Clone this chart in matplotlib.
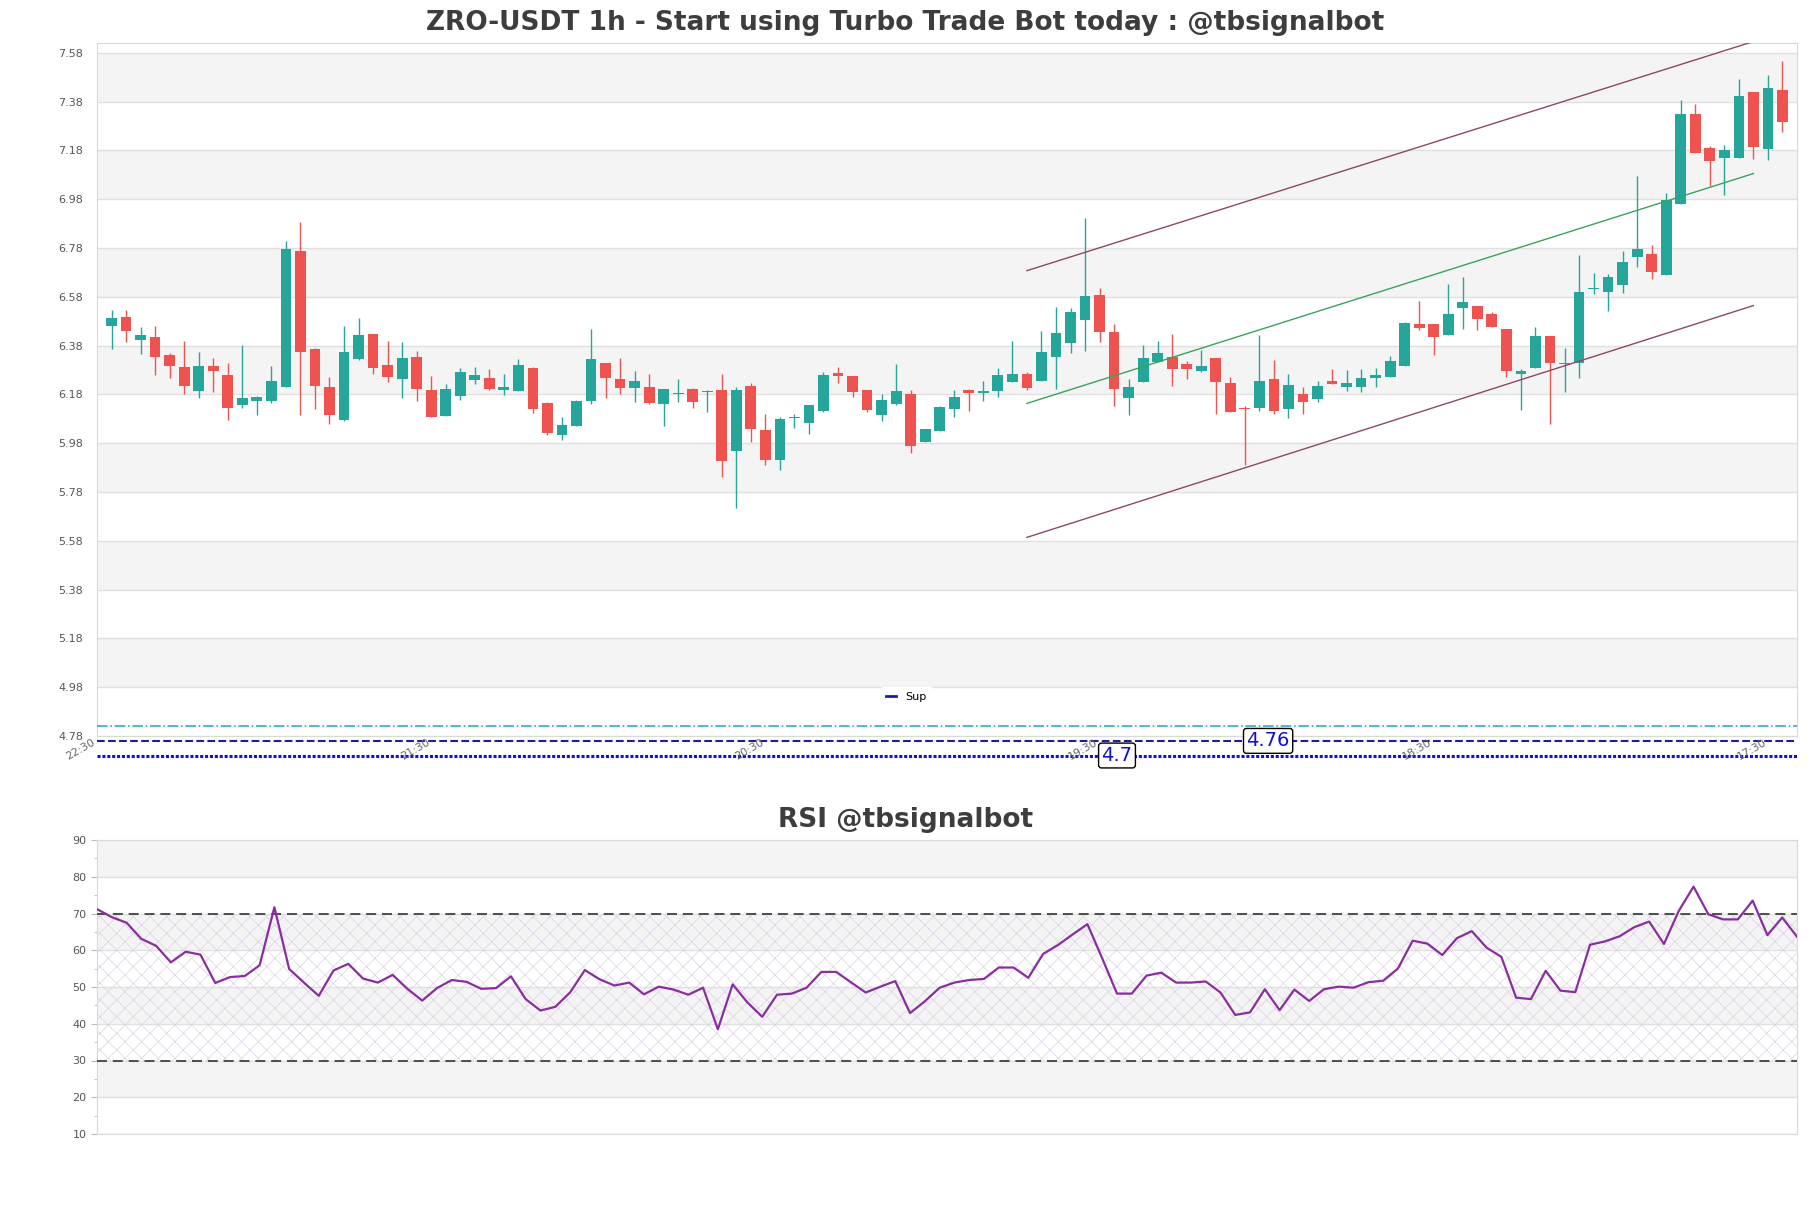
import matplotlib.pyplot as plt
import numpy as np

# velas 1h (x = 1..116)
opens = [6.462, 6.496, 6.404, 6.414, 6.341, 6.292, 6.195, 6.296, 6.259, 6.138,
         6.154, 6.154, 6.211, 6.766, 6.365, 6.210, 6.076, 6.325, 6.427, 6.300,
         6.244, 6.333, 6.198, 6.093, 6.175, 6.240, 6.247, 6.199, 6.195, 6.288,
         6.145, 6.015, 6.052, 6.154, 6.308, 6.243, 6.207, 6.210, 6.142, 6.181,
         6.202, 6.188, 6.199, 5.950, 6.214, 6.034, 5.913, 6.083, 6.064, 6.113,
         6.267, 6.255, 6.198, 6.097, 6.142, 6.181, 5.984, 6.028, 6.120, 6.198,
         6.187, 6.195, 6.232, 6.263, 6.236, 6.333, 6.391, 6.485, 6.586, 6.435,
         6.166, 6.232, 6.311, 6.333, 6.304, 6.275, 6.329, 6.226, 6.125, 6.125,
         6.243, 6.121, 6.181, 6.162, 6.236, 6.211, 6.211, 6.247, 6.251, 6.296,
         6.468, 6.468, 6.423, 6.534, 6.541, 6.509, 6.447, 6.265, 6.288, 6.419,
         6.304, 6.308, 6.612, 6.599, 6.627, 6.745, 6.754, 6.670, 6.961, 7.327,
         7.188, 7.147, 7.149, 7.421, 7.186, 7.429]
highs = [6.525, 6.525, 6.455, 6.461, 6.349, 6.398, 6.355, 6.329, 6.308, 6.382,
         6.172, 6.296, 6.807, 6.885, 6.372, 6.251, 6.461, 6.492, 6.427, 6.398,
         6.394, 6.357, 6.255, 6.222, 6.288, 6.292, 6.284, 6.263, 6.325, 6.292,
         6.149, 6.087, 6.157, 6.447, 6.310, 6.329, 6.275, 6.263, 6.202, 6.243,
         6.206, 6.199, 6.263, 6.210, 6.226, 6.100, 6.087, 6.100, 6.136, 6.271,
         6.292, 6.255, 6.198, 6.181, 6.304, 6.198, 6.038, 6.132, 6.198, 6.202,
         6.236, 6.288, 6.398, 6.271, 6.439, 6.537, 6.532, 6.904, 6.615, 6.468,
         6.243, 6.382, 6.398, 6.428, 6.316, 6.361, 6.329, 6.251, 6.134, 6.423,
         6.320, 6.263, 6.210, 6.236, 6.284, 6.280, 6.284, 6.288, 6.337, 6.476,
         6.562, 6.468, 6.631, 6.660, 6.541, 6.517, 6.447, 6.284, 6.455, 6.419,
         6.369, 6.750, 6.676, 6.672, 6.766, 7.073, 6.791, 7.006, 7.388, 7.372,
         7.196, 7.200, 7.472, 7.421, 7.490, 7.547]
lows = [6.365, 6.395, 6.345, 6.259, 6.247, 6.181, 6.166, 6.191, 6.076, 6.125,
        6.095, 6.146, 6.211, 6.097, 6.121, 6.060, 6.072, 6.320, 6.265, 6.232,
        6.166, 6.154, 6.089, 6.093, 6.158, 6.224, 6.199, 6.179, 6.195, 6.105,
        6.015, 5.995, 6.052, 6.142, 6.166, 6.183, 6.150, 6.142, 6.052, 6.150,
        6.125, 6.106, 5.840, 5.713, 5.984, 5.892, 5.872, 6.044, 6.019, 6.109,
        6.228, 6.170, 6.109, 6.072, 6.138, 5.941, 5.984, 6.028, 6.089, 6.113,
        6.154, 6.170, 6.232, 6.199, 6.236, 6.202, 6.349, 6.359, 6.395, 6.134,
        6.097, 6.232, 6.311, 6.215, 6.244, 6.270, 6.101, 6.109, 5.892, 6.113,
        6.101, 6.085, 6.101, 6.150, 6.224, 6.195, 6.191, 6.211, 6.251, 6.296,
        6.444, 6.341, 6.423, 6.447, 6.444, 6.457, 6.251, 6.117, 6.288, 6.060,
        6.191, 6.248, 6.592, 6.522, 6.594, 6.701, 6.652, 6.670, 6.961, 7.169,
        7.035, 6.997, 7.149, 7.143, 7.140, 7.255]
closes = [6.492, 6.440, 6.423, 6.334, 6.297, 6.215, 6.296, 6.277, 6.125, 6.165,
          6.169, 6.235, 6.774, 6.355, 6.215, 6.097, 6.353, 6.423, 6.289, 6.252,
          6.329, 6.203, 6.089, 6.202, 6.271, 6.259, 6.203, 6.210, 6.300, 6.121,
          6.023, 6.055, 6.153, 6.325, 6.248, 6.207, 6.235, 6.146, 6.202, 6.182,
          6.150, 6.191, 5.905, 6.199, 6.037, 5.913, 6.079, 6.087, 6.136, 6.259,
          6.256, 6.191, 6.117, 6.157, 6.193, 5.967, 6.038, 6.128, 6.169, 6.185,
          6.193, 6.259, 6.263, 6.207, 6.353, 6.431, 6.517, 6.582, 6.436, 6.203,
          6.210, 6.329, 6.349, 6.284, 6.285, 6.296, 6.232, 6.109, 6.119, 6.236,
          6.113, 6.218, 6.150, 6.214, 6.224, 6.226, 6.247, 6.259, 6.316, 6.472,
          6.453, 6.416, 6.509, 6.558, 6.488, 6.457, 6.275, 6.275, 6.419, 6.310,
          6.310, 6.599, 6.616, 6.660, 6.724, 6.774, 6.682, 6.975, 7.327, 7.169,
          7.136, 7.183, 7.404, 7.194, 7.437, 7.295]

rsi = [71.2, 69.0, 67.5, 63.1, 61.2, 56.7, 59.6, 58.8, 51.1, 52.7,
       53.0, 55.9, 71.7, 54.9, 51.2, 47.6, 54.5, 56.3, 52.3, 51.2,
       53.3, 49.5, 46.3, 49.7, 51.9, 51.4, 49.5, 49.7, 52.9, 46.7,
       43.6, 44.6, 48.5, 54.6, 52.1, 50.4, 51.2, 48.0, 50.1, 49.3,
       47.9, 49.8, 38.5, 50.7, 45.8, 41.9, 47.9, 48.2, 49.8, 54.1,
       54.1, 51.3, 48.5, 50.1, 51.6, 42.9, 46.1, 49.8, 51.2, 51.9,
       52.2, 55.3, 55.3, 52.5, 59.0, 61.4, 64.3, 67.1, 57.8, 48.2,
       48.2, 53.1, 53.9, 51.2, 51.2, 51.5, 48.5, 42.4, 43.1, 49.4,
       43.7, 49.3, 46.2, 49.4, 50.1, 49.8, 51.3, 51.7, 55.0, 62.6,
       61.8, 58.7, 63.3, 65.2, 60.7, 58.2, 47.1, 46.7, 54.4, 49.0,
       48.6, 61.5, 62.4, 63.8, 66.3, 67.8, 61.7, 70.7, 77.3, 69.8,
       68.4, 68.4, 73.5, 64.1, 68.9, 63.7]

tick_labels = ['22:30', '21:30', '20:30', '19:30', '18:30', '17:30']

# canal (x inicial, x final, valores)
canal_x = [64, 114]
canal_sup = [6.687, 7.626]
canal_med = [6.143, 7.085]
canal_inf = [5.594, 6.544]

nivel_cyan = 4.823
nivel_sup = 4.76
nivel_min = 4.70

verde = '#26a69a'
rojo = '#ef5350'
gris_txt = '#555555'

fig = plt.figure(figsize=(18.11, 12.08), dpi=100)
plt.rcParams['hatch.linewidth'] = 0.5

# ---------------- velas ----------------
ax = fig.add_axes([97/1811, 1 - 736/1208, 1700/1811, 693/1208])
ax.set_xlim(0, 117)
ax.set_ylim(4.78, 7.62)

yt = np.round(np.arange(4.78, 7.59, 0.2), 2)
for k in range(len(yt) - 1):
    if (len(yt) - 2 - k) % 2 == 0:
        ax.axhspan(yt[k], yt[k + 1], color='#f4f4f4', zorder=0, lw=0)
ax.set_yticks(yt)
ax.set_yticklabels([f'{v:.2f}' for v in yt])
ax.grid(axis='y', color='#e0e0e0', lw=1, zorder=0.5)
ax.set_axisbelow(True)

x = np.arange(1, len(opens) + 1)
for xi, o, h, l, c in zip(x, opens, highs, lows, closes):
    col = verde if c >= o else rojo
    ax.vlines(xi, l, h, color=col, lw=1, zorder=2)
    ax.bar(xi, abs(c - o) if abs(c - o) > 0.004 else 0.004, bottom=min(o, c),
           width=0.74, color=col, zorder=3, lw=0)

ax.plot(canal_x, canal_sup, color='#8b4a62', lw=1, zorder=4)
ax.plot(canal_x, canal_med, color='#3aa35a', lw=1, zorder=4)
ax.plot(canal_x, canal_inf, color='#8b4a62', lw=1, zorder=4)

# lineas de soporte (debajo de las etiquetas del eje x)
ax.axhline(nivel_cyan, color='#1fb5cf', lw=1.2, ls='-.', zorder=4)
sup_line = ax.axhline(nivel_sup, color='#1c1c9c', lw=1.5, ls='--', clip_on=False,
                      zorder=0.45, label='Sup')
ax.axhline(nivel_min, color='#1010d8', lw=2.2, ls=(0, (1, 0.6)), clip_on=False, zorder=0.45)

caja = dict(boxstyle='round,pad=0.15', fc='white', ec='black', lw=1)
ax.text(80.6, nivel_sup, '4.76', color='#1010d0', fontsize=14, ha='center',
        va='center', bbox=caja, clip_on=False, zorder=6)
ax.text(70.2, nivel_min, '4.7', color='#1010d0', fontsize=14, ha='center',
        va='center', bbox=caja, clip_on=False, zorder=6)

leg = ax.legend(loc='center', bbox_to_anchor=(0.476, 0.056), fontsize=8,
                frameon=True, handlelength=0.9, borderpad=0.5)
leg.get_frame().set_edgecolor('white')
leg.get_frame().set_facecolor('white')
leg.get_frame().set_alpha(1)
leg.get_lines()[0].set_linestyle('-')
leg.get_lines()[0].set_linewidth(2)

ax.set_xticks([0, 23, 46, 69, 92, 115])
ax.set_xticklabels(tick_labels, rotation=30, ha='right', fontsize=8, color='#666666')
ax.tick_params(axis='x', length=0, pad=1)
ax.tick_params(axis='y', length=0, labelsize=8, labelcolor=gris_txt, pad=10)
for s in ax.spines.values():
    s.set_color('#d9d9d9')

fig.text(0.5, 1 - 23/1208, 'ZRO-USDT 1h - Start using Turbo Trade Bot today : @tbsignalbot',
         ha='center', va='center', fontsize=19, fontweight='bold', color='#3d3d3d')

# ---------------- RSI ----------------
ax2 = fig.add_axes([97/1811, 1 - 1134/1208, 1700/1811, 294/1208])
ax2.set_xlim(0, len(rsi) - 1)
ax2.set_ylim(10, 90)
for lo in [20, 40, 60, 80]:
    ax2.axhspan(lo, lo + 10, color='#f4f4f4', zorder=0, lw=0)
ax2.fill_between([0, len(rsi) - 1], 30, 70, facecolor='none', hatch='xx',
                 edgecolor='#dad2e4', lw=0, zorder=0.6)
ax2.set_yticks(range(10, 91, 10))
ax2.set_yticks(range(15, 90, 10), minor=True)
ax2.grid(axis='y', color='#e0e0e0', lw=1, zorder=0.5)
ax2.set_axisbelow(True)
ax2.axhline(70, color='#333333', lw=1.2, ls=(0, (6, 3.5)), zorder=3)
ax2.axhline(30, color='#333333', lw=1.2, ls=(0, (6, 3.5)), zorder=3)
ax2.plot(np.arange(len(rsi)), rsi, color='#8a2d9e', lw=1.6, zorder=4)
ax2.set_xticks([])
ax2.tick_params(axis='y', which='major', length=4, color='#bbbbbb', labelsize=8,
                labelcolor=gris_txt)
ax2.tick_params(axis='y', which='minor', length=2, color='#bbbbbb')
for s in ax2.spines.values():
    s.set_color('#d9d9d9')

fig.text(0.5, 1 - 820/1208, 'RSI @tbsignalbot', ha='center', va='center',
         fontsize=19, fontweight='bold', color='#3d3d3d')

fig.savefig('out.png', dpi=100, facecolor='white')
